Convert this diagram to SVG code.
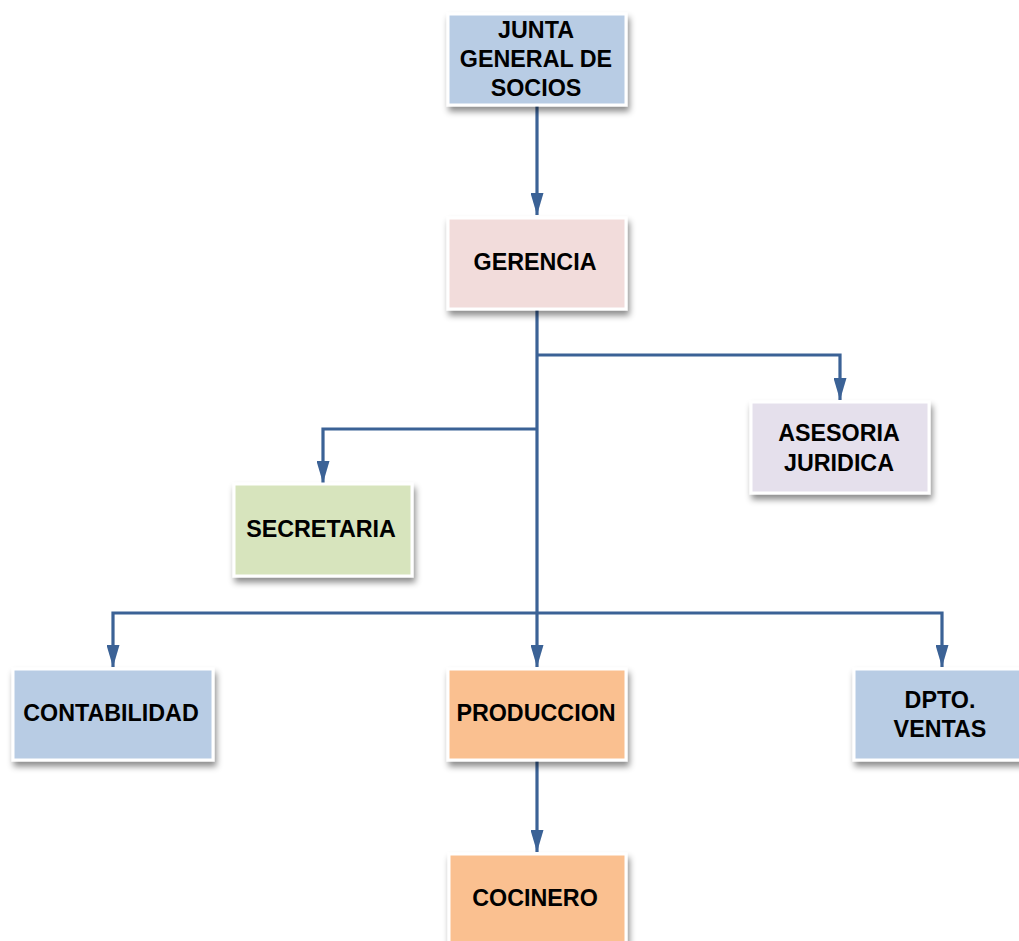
<svg xmlns="http://www.w3.org/2000/svg" width="1019" height="941" viewBox="0 0 1019 941">
<style>
.box{stroke:#ffffff;stroke-width:3;filter:url(#sh)}
.t{font-family:"Liberation Sans",Arial,sans-serif;font-weight:bold;font-size:23.3px;fill:#000;text-anchor:middle}
.c{fill:none;stroke:#3b6296;stroke-width:3.2}
</style>
<defs>
<filter id="sh" x="-10%" y="-10%" width="125%" height="130%">
<feDropShadow dx="2" dy="5" stdDeviation="3" flood-color="#000" flood-opacity="0.45"/>
</filter>
<marker id="ar" markerWidth="22" markerHeight="13" refX="22" refY="6.5" orient="auto" markerUnits="userSpaceOnUse" viewBox="0 0 22 13">
<path d="M0,0 L22,6.5 L0,13 Z" fill="#3b6296"/>
</marker>
</defs>
<g id="connectors">
<path class="c" d="M537,106 V215" marker-end="url(#ar)"/>
<path class="c" d="M537,310 V667" marker-end="url(#ar)"/>
<path class="c" d="M537,355 H840 V400" marker-end="url(#ar)"/>
<path class="c" d="M537,429 H323 V483" marker-end="url(#ar)"/>
<path class="c" d="M537,613 H113 V667" marker-end="url(#ar)"/>
<path class="c" d="M537,613 H942 V667" marker-end="url(#ar)"/>
<path class="c" d="M537,761 V852" marker-end="url(#ar)"/>
</g>
<g id="junta">
<rect class="box" x="448" y="14" width="178" height="91" fill="#b8cce4"/>
<text class="t" x="536" y="38">JUNTA</text>
<text class="t" x="536" y="67">GENERAL DE</text>
<text class="t" x="536" y="96">SOCIOS</text>
</g>
<g id="gerencia">
<rect class="box" x="448" y="218" width="178" height="91" fill="#f2dcdb"/>
<text class="t" x="535" y="270">GERENCIA</text>
</g>
<g id="asesoria">
<rect class="box" x="751" y="402" width="178" height="91" fill="#e5e0ec"/>
<text class="t" x="839" y="441">ASESORIA</text>
<text class="t" x="839" y="471">JURIDICA</text>
</g>
<g id="secretaria">
<rect class="box" x="234" y="484" width="178" height="92" fill="#d7e4bd"/>
<text class="t" x="321" y="537">SECRETARIA</text>
</g>
<g id="contabilidad">
<rect class="box" x="13" y="669" width="200" height="91" fill="#b8cce4"/>
<text class="t" x="111" y="721">CONTABILIDAD</text>
</g>
<g id="produccion">
<rect class="box" x="448" y="669" width="178" height="91" fill="#fac090"/>
<text class="t" x="536" y="721">PRODUCCION</text>
</g>
<g id="ventas">
<rect class="box" x="854" y="669" width="178" height="91" fill="#b8cce4"/>
<text class="t" x="940" y="708">DPTO.</text>
<text class="t" x="940" y="737">VENTAS</text>
</g>
<g id="cocinero">
<rect class="box" x="449" y="854" width="177" height="100" fill="#fac090"/>
<text class="t" x="535" y="906">COCINERO</text>
</g>
</svg>
